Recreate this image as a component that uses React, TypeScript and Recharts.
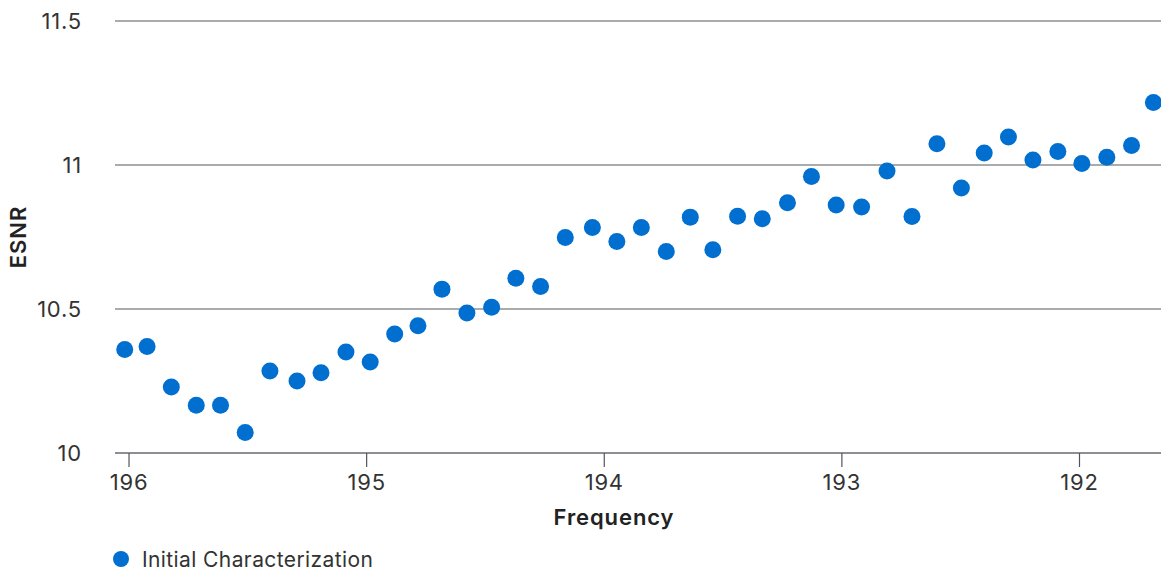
import React from 'react';
import { ScatterChart, Scatter, XAxis, YAxis, CartesianGrid, Legend } from 'recharts';

// frequency (THz) of each measurement, high to low
const frequencies = [
  196.018, 195.924, 195.822, 195.717, 195.615, 195.511, 195.407, 195.293, 195.192, 195.087,
  194.985, 194.882, 194.784, 194.683, 194.578, 194.474, 194.372, 194.268, 194.164, 194.05,
  193.947, 193.844, 193.739, 193.638, 193.543, 193.439, 193.335, 193.229, 193.128, 193.024,
  192.917, 192.81, 192.705, 192.6, 192.497, 192.401, 192.299, 192.196, 192.091, 191.99,
  191.885, 191.781, 191.689,
];

const esnrValues = [
  10.359, 10.37, 10.229, 10.166, 10.166, 10.071, 10.285, 10.25, 10.279, 10.351,
  10.316, 10.413, 10.442, 10.569, 10.486, 10.506, 10.607, 10.578, 10.748, 10.783,
  10.734, 10.783, 10.7, 10.819, 10.706, 10.822, 10.813, 10.869, 10.96, 10.861,
  10.854, 10.979, 10.821, 11.074, 10.92, 11.042, 11.097, 11.017, 11.047, 11.005,
  11.027, 11.068, 11.217,
];

const xTicks = [196, 195, 194, 193, 192];
const yTicks = [10, 10.5, 11, 11.5];
const seriesName = 'Initial Characterization';

const BLUE = '#006fcf';
const FONT = 'Inter, "Noto Sans", sans-serif';

const points = frequencies.map((freq, i) => ({ freq, esnr: esnrValues[i] }));

const Dot = (props: any) => <circle cx={props.cx} cy={props.cy} r={8.5} fill={BLUE} />;

const LegendContent = (props: any) => {
  const items = props.payload || [];
  return (
    <div style={{ height: 24, display: 'flex', alignItems: 'center', paddingLeft: 113, fontFamily: FONT }}>
      {items.map((item: any) => (
        <div key={item.value} style={{ display: 'flex', alignItems: 'center' }}>
          <svg width={16} height={16} style={{ marginRight: 13 }}>
            <circle cx={8} cy={8} r={8} fill={BLUE} />
          </svg>
          <span style={{ fontSize: 21, letterSpacing: 0.4, color: '#333' }}>{item.value}</span>
        </div>
      ))}
    </div>
  );
};

export default function App() {
  return (
    <div style={{ position: 'absolute', left: 0, top: 0, background: '#fff' }}>
      <ScatterChart width={1161} height={571} margin={{ top: 21, right: 0, bottom: 0, left: 0 }}>
        <CartesianGrid vertical={false} stroke="#8c9095" strokeWidth={1.5} />
        <XAxis
          type="number"
          dataKey="freq"
          domain={[191.657, 196.059]}
          reversed
          ticks={xTicks}
          allowDataOverflow
          height={94}
          stroke="#8c9095"
          strokeWidth={2}
          tickSize={14}
          tickMargin={7}
          tickLine={{ stroke: '#555', strokeWidth: 1.2 }}
          tick={{ fill: '#333', fontSize: 22, letterSpacing: 0.8, fontFamily: FONT }}
          label={{
            value: 'Frequency',
            position: 'insideBottom',
            offset: 22,
            dx: -24,
            fill: '#222',
            fontSize: 22,
            fontWeight: 600,
            letterSpacing: 0.9,
            fontFamily: FONT,
          }}
        />
        <YAxis
          type="number"
          dataKey="esnr"
          domain={[10, 11.5]}
          ticks={yTicks}
          width={115}
          axisLine={false}
          tickLine={false}
          tickSize={0}
          tickMargin={33}
          tick={{ fill: '#333', fontSize: 22, letterSpacing: 0.8, fontFamily: FONT }}
          label={{
            value: 'ESNR',
            angle: -90,
            position: 'center',
            dx: -39,
            fill: '#222',
            fontSize: 22,
            fontWeight: 600,
            letterSpacing: 0.9,
            fontFamily: FONT,
          }}
        />
        <Legend verticalAlign="bottom" align="left" content={<LegendContent />} />
        <Scatter name={seriesName} data={points} fill={BLUE} shape={<Dot />} isAnimationActive={false} />
      </ScatterChart>
    </div>
  );
}
